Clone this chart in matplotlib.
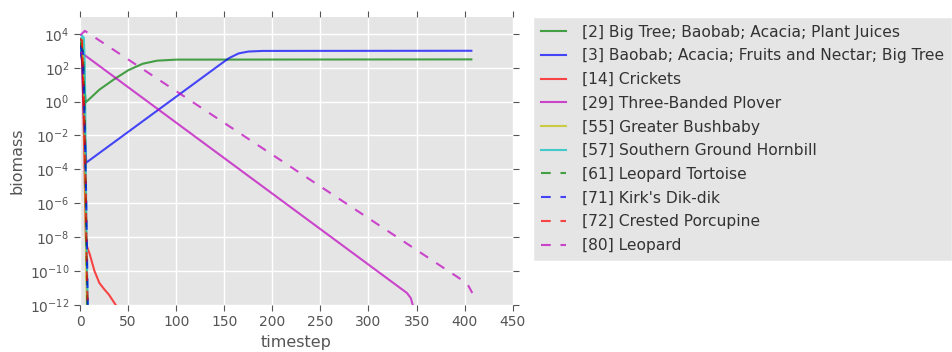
import matplotlib
matplotlib.use("Agg")
import matplotlib.pyplot as plt

# Biomass trajectories (timestep, biomass)
names = [
    "[2] Big Tree; Baobab; Acacia; Plant Juices",
    "[3] Baobab; Acacia; Fruits and Nectar; Big Tree",
    "[14] Crickets",
    "[29] Three-Banded Plover",
    "[55] Greater Bushbaby",
    "[57] Southern Ground Hornbill",
    "[61] Leopard Tortoise",
    "[71] Kirk's Dik-dik",
    "[72] Crested Porcupine",
    "[80] Leopard",
]

t_2 = [0, 3, 6, 20, 35, 50, 65, 80, 100, 407]
b_2 = [5e3, 50, 0.9, 5, 20, 70, 170, 260, 300, 310]

t_3 = [0, 2, 4, 6.5, 145, 155, 165, 175, 190, 407]
b_3 = [1e3, 3e2, 1e-1, 2.5e-4, 145, 370, 700, 900, 980, 1000]

t_14 = [0, 2, 4, 6, 7, 10, 15, 20, 25, 30, 37]
b_14 = [5e3, 3e3, 1e-2, 1e-8, 3e-9, 1e-9, 1e-10, 2e-11, 8.5e-12, 4e-12, 1e-12]

t_29 = [1, 340, 344, 346]
b_29 = [800, 5e-12, 2.5e-12, 1e-12]

t_55 = [0, 2, 4, 5, 6, 7]
b_55 = [2e3, 5e3, 1e2, 1e-3, 1e-8, 1e-12]

t_57 = [0, 2, 4, 5, 6, 7, 8]
b_57 = [1e3, 8e3, 6e3, 1e2, 1e-4, 1e-9, 1e-12]

t_61 = [0, 3, 5, 6, 7, 7.5]
b_61 = [3e3, 1e3, 1e-1, 1e-6, 1e-10, 1e-12]

t_71 = [0, 3, 5, 6.5, 7.5, 8]
b_71 = [2e3, 8e2, 1e-2, 1e-6, 1e-10, 1e-12]

t_72 = [0, 2, 4, 6, 7, 8]
b_72 = [5e3, 4e3, 1.0, 1e-5, 1e-10, 1e-12]

t_80 = [0, 5, 400, 404, 408]
b_80 = [8e3, 1.5e4, 2.3e-11, 1.3e-11, 5e-12]

series = [(t_2, b_2), (t_3, b_3), (t_14, b_14), (t_29, b_29), (t_55, b_55),
          (t_57, b_57), (t_61, b_61), (t_71, b_71), (t_72, b_72), (t_80, b_80)]
colors = ["g", "b", "r", "m", "y", "c", "g", "b", "r", "m"]
styles = ["-"] * 6 + ["--"] * 4

grey = "#555555"
plt.rcParams.update({
    "font.family": "DejaVu Sans",
    "text.color": grey,
    "axes.labelcolor": grey,
    "xtick.color": grey,
    "ytick.color": grey,
    "lines.scale_dashes": False,
    "lines.dashed_pattern": (7, 7),
})

fig = plt.figure(figsize=(9.53, 3.52), dpi=100)
ax = fig.add_axes([0.084, 0.134, 0.454, 0.818])
ax.set_facecolor("#E5E5E5")
for sp in ax.spines.values():
    sp.set_visible(False)

for (t, b), c, ls, name in zip(series, colors, styles, names):
    ax.plot(t, b, color=c, linestyle=ls, linewidth=1.5, alpha=0.7, label=name)

ax.set_yscale("log")
ax.set_ylim(1e-12, 1e5)
ax.set_xlim(0, 450)
ax.set_yticks([10.0 ** k for k in range(-12, 5, 2)])
ax.minorticks_off()
ax.set_xticks(range(0, 451, 50))
ax.grid(True, color="white", linewidth=1)
ax.set_axisbelow(True)
ax.tick_params(direction="out", top=True, right=True, labelsize=10, length=4)
ax.set_xlabel("timestep", fontsize=11.5)
ax.set_ylabel("biomass", fontsize=11.5)

leg = ax.legend(loc="upper left", bbox_to_anchor=(1.048, 1.0), fontsize=11.2,
                frameon=True, facecolor="#E5E5E5", edgecolor="white",
                fancybox=False, handlelength=1.6, handletextpad=1.0,
                borderpad=0.5, borderaxespad=0, labelspacing=0.56)
leg.get_frame().set_alpha(1)
for txt in leg.get_texts():
    txt.set_color("#333333")

fig.savefig("out.png", dpi=100)
